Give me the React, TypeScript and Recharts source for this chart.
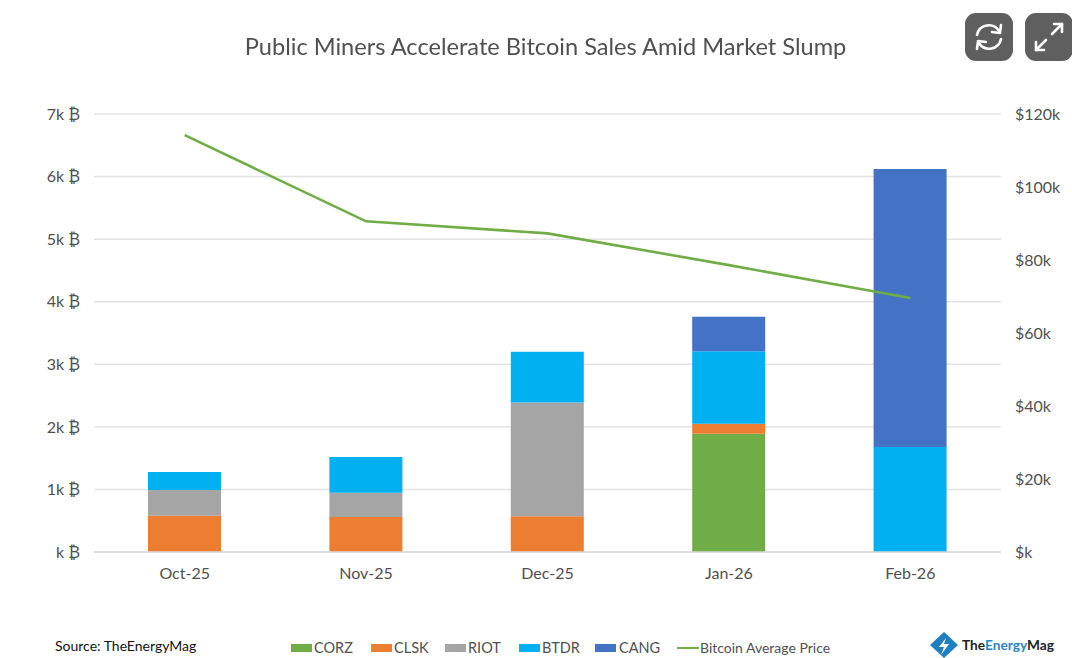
import { ComposedChart, Bar, Line, XAxis, YAxis, CartesianGrid } from "recharts";

const months = ["Oct-25", "Nov-25", "Dec-25", "Jan-26", "Feb-26"];
const corz = [0, 0, 0, 1890, 0];
const clsk = [580, 560, 570, 160, 0];
const riot = [410, 385, 1820, 0, 0];
const btdr = [290, 575, 810, 1160, 1680];
const cang = [0, 0, 0, 550, 4440];
const price = [114200, 90600, 87300, 78600, 69600];

const btcTicks = [0, 1000, 2000, 3000, 4000, 5000, 6000, 7000];
const priceTicks = [0, 20000, 40000, 60000, 80000, 100000, 120000];

const data = months.map((month, i) => ({
  month,
  corz: corz[i],
  clsk: clsk[i],
  riot: riot[i],
  btdr: btdr[i],
  cang: cang[i],
  price: price[i]
}));

const FONT = "Lato, sans-serif";
const tickStyle = { fontSize: 16, fill: "#505050", fontFamily: FONT };

const legendItems = [
  { label: "CORZ", color: "#70ad47", x: 291, textX: 314 },
  { label: "CLSK", color: "#ed7d31", x: 371, textX: 394 },
  { label: "RIOT", color: "#a5a5a5", x: 445, textX: 468 },
  { label: "BTDR", color: "#00b0f0", x: 519, textX: 542 },
  { label: "CANG", color: "#4472c4", x: 595, textX: 619 }
];

function Legend() {
  return (
    <>
      {legendItems.map((it) => (
        <div key={it.label}>
          <div style={{ position: "absolute", left: it.x, top: 644, width: 21, height: 8, background: it.color }} />
          <div style={{ position: "absolute", left: it.textX, top: 638, fontSize: 14.5, lineHeight: "20px", color: "#505050" }}>{it.label}</div>
        </div>
      ))}
      <div style={{ position: "absolute", left: 677, top: 647, width: 22, height: 2, background: "#70ad47" }} />
      <div style={{ position: "absolute", left: 700, top: 638, fontSize: 14, lineHeight: "20px", color: "#505050" }}>Bitcoin Average Price</div>
    </>
  );
}

function IconButton({ left, children }: { left: number; children: React.ReactNode }) {
  return (
    <svg style={{ position: "absolute", left, top: 13 }} width={48} height={48} viewBox="0 0 48 48">
      <rect width={48} height={48} rx={11} fill="#5f5f5f" />
      <g fill="none" stroke="#fff" strokeWidth={2.6} strokeLinecap="round" strokeLinejoin="round">{children}</g>
    </svg>
  );
}

export default function App() {
  return (
    <div style={{ position: "fixed", left: 0, top: 0, width: 1072, height: 658, background: "#fff", fontFamily: FONT }}>
      <ComposedChart width={1072} height={658} data={data} barSize={73} margin={{ top: 114, right: 0, left: 0, bottom: 66 }}>
        <CartesianGrid yAxisId="btc" vertical={false} stroke="#e3e3e3" strokeWidth={1.5} />
        <XAxis dataKey="month" height={40} tick={tickStyle} tickLine={false} axisLine={{ stroke: "#d9d9d9", strokeWidth: 1.5 }} tickMargin={10} />
        <YAxis
          yAxisId="btc"
          width={94}
          domain={[0, 7000]}
          ticks={btcTicks}
          tick={tickStyle}
          tickLine={false}
          axisLine={false}
          tickMargin={8}
          tickFormatter={(v: number) => (v === 0 ? "k ₿" : `${v / 1000}k ₿`)}
        />
        <YAxis
          yAxisId="price"
          orientation="right"
          width={71}
          domain={[0, 120000]}
          ticks={priceTicks}
          tick={tickStyle}
          tickLine={false}
          axisLine={false}
          tickMargin={8}
          tickFormatter={(v: number) => (v === 0 ? "$k" : `$${v / 1000}k`)}
        />
        <Bar yAxisId="btc" dataKey="corz" stackId="a" fill="#70ad47" isAnimationActive={false} />
        <Bar yAxisId="btc" dataKey="clsk" stackId="a" fill="#ed7d31" isAnimationActive={false} />
        <Bar yAxisId="btc" dataKey="riot" stackId="a" fill="#a5a5a5" isAnimationActive={false} />
        <Bar yAxisId="btc" dataKey="btdr" stackId="a" fill="#00b0f0" isAnimationActive={false} />
        <Bar yAxisId="btc" dataKey="cang" stackId="a" fill="#4472c4" isAnimationActive={false} />
        <Line yAxisId="price" dataKey="price" stroke="#70ad47" strokeWidth={2.6} dot={false} isAnimationActive={false} />
      </ComposedChart>

      <div style={{ position: "absolute", left: 0, top: 30, width: 1091, textAlign: "center", fontSize: 23.6, lineHeight: "32px", color: "#505050" }}>
        Public Miners Accelerate Bitcoin Sales Amid Market Slump
      </div>

      <IconButton left={965}>
        <path d="M12 22 A12 12 0 0 1 34 18" />
        <path d="M36 12 L35 20 L27 19" />
        <path d="M36 26 A12 12 0 0 1 14 30" />
        <path d="M12 36 L13 28 L21 29" />
      </IconButton>
      <IconButton left={1025}>
        <path d="M27 21 L37 11" />
        <path d="M29 11 L37 11 L37 19" />
        <path d="M21 27 L11 37" />
        <path d="M11 29 L11 37 L19 37" />
      </IconButton>

      <div style={{ position: "absolute", left: 55, top: 636, fontSize: 14, lineHeight: "20px", color: "#111" }}>Source: TheEnergyMag</div>
      <Legend />

      <svg style={{ position: "absolute", left: 929, top: 630 }} width={30} height={28} viewBox="0 0 30 28">
        <path d="M15 2 L29 15 L15 28 L1 15 Z" fill="#1f7fc1" />
        <path d="M17 8 L10 17 L15 17 L12 25 L20 14 L15 14 Z" fill="#fff" />
      </svg>
      <div style={{ position: "absolute", left: 962, top: 635, fontSize: 13.7, lineHeight: "20px", fontWeight: 700, color: "#222" }}>
        The<span style={{ color: "#2a86c8" }}>Energy</span>Mag
      </div>
    </div>
  );
}
